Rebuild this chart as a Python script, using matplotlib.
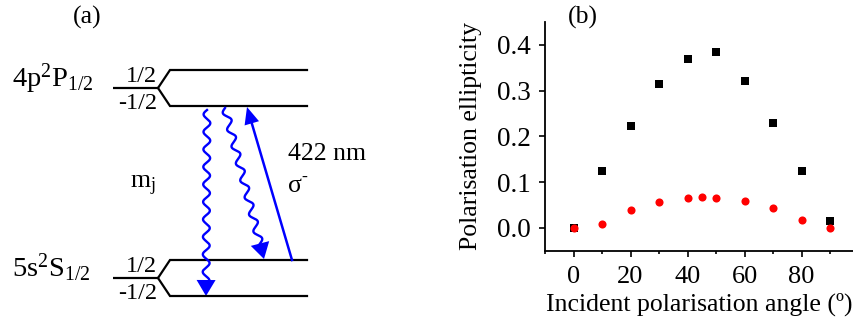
import numpy as np
import matplotlib
matplotlib.use("Agg")
import matplotlib.pyplot as plt
from matplotlib.patches import Polygon
from matplotlib.ticker import MultipleLocator

plt.rcParams['font.family'] = ['Liberation Serif', 'DejaVu Serif']
plt.rcParams['mathtext.fontset'] = 'custom'
plt.rcParams['mathtext.rm'] = 'Liberation Serif'
plt.rcParams['mathtext.it'] = 'Liberation Serif:italic'

# ---------------- data for panel (b) ----------------
angles_sq = [0, 10, 20, 30, 40, 50, 60, 70, 80, 90]
ellip_sq = [0.0, 0.125, 0.223, 0.315, 0.369, 0.385, 0.320, 0.230, 0.125, 0.016]
angles_ci = [0, 10, 20, 30, 40, 45, 50, 60, 70, 80, 90]
ellip_ci = [0.0, 0.009, 0.038, 0.057, 0.066, 0.067, 0.066, 0.058, 0.043, 0.017, 0.0]
yticks = [0.0, 0.1, 0.2, 0.3, 0.4]
xticks = [0, 20, 40, 60, 80]

# ---------------- diagram (a) geometry (pixel units) ----------------
level_names = [r'$\mathregular{4p^2P_{1/2}}$', r'$\mathregular{5s^2S_{1/2}}$']
level_mid = [88, 278]        # stub line height
level_split = [18, 18]       # half spacing of sublevels
stub_x = [113, 158]
split_x = 170
right_x = 307
sub_labels = ['1/2', '-1/2']
wavy_arrows = [((207, 110), (206, 296)), ((225, 108), (264, 259))]
laser_arrow = ((292, 260), (247, 107))

fig = plt.figure(figsize=(8.54, 3.21), dpi=100)
ax0 = fig.add_axes([0, 0, 1, 1])
ax0.set_xlim(0, 854)
ax0.set_ylim(321, 0)
ax0.axis('off')

FS_NAME = 20.5
FS_SUB = 17.5
FS = 18.5
for name, ym, h in zip(level_names, level_mid, level_split):
    ax0.plot([stub_x[0], stub_x[1]], [ym, ym], color='black', lw=1.6,
             solid_capstyle='butt')
    for sgn in (-1, 1):
        ax0.plot([stub_x[1], split_x, right_x], [ym, ym + sgn * h, ym + sgn * h],
                 color='black', lw=1.6, solid_joinstyle='miter')
    ax0.text(12, ym - 1, name, fontsize=FS_NAME, ha='left', va='baseline')
    ax0.text(157, ym - 6, sub_labels[0], fontsize=FS_SUB, ha='right', va='baseline')
    ax0.text(157, ym + 21, sub_labels[1], fontsize=FS_SUB, ha='right', va='baseline')

ax0.text(87, 24, '(a)', fontsize=FS, ha='center', va='baseline')
ax0.text(130, 188, r'$\mathregular{m_j}$', fontsize=FS, ha='left', va='baseline')
ax0.text(288, 160, '422 nm', fontsize=FS, ha='left', va='baseline')
ax0.text(288, 192, 'σ', fontsize=FS, ha='left', va='baseline')
ax0.text(301, 182, '-', fontsize=13, ha='left', va='baseline')

BLUE = '#0000ff'


def head(ax, tip, u, n, hl, hw):
    base = tip - hl * u
    tri = np.array([tip, base + hw / 2 * n, base - hw / 2 * n])
    ax.add_patch(Polygon(tri, closed=True, color=BLUE, lw=0))


def wavy(ax, p0, p1, amp=3.4, period=17.5, hl=16, hw=19):
    p0 = np.array(p0, float)
    p1 = np.array(p1, float)
    d = p1 - p0
    L = np.hypot(*d)
    u = d / L
    n = np.array([-u[1], u[0]])
    s = np.linspace(0, L - hl + 2, 600)
    pts = p0[None, :] + s[:, None] * u[None, :] + \
        (amp * np.sin(2 * np.pi * s / period))[:, None] * n[None, :]
    ax.plot(pts[:, 0], pts[:, 1], color=BLUE, lw=1.7)
    head(ax, p1, u, n, hl, hw)


for p0, p1 in wavy_arrows:
    wavy(ax0, p0, p1)

p0 = np.array(laser_arrow[0], float)
p1 = np.array(laser_arrow[1], float)
d = p1 - p0
L = np.hypot(*d)
u = d / L
n = np.array([-u[1], u[0]])
base = p1 - 16 * u
ax0.plot([p0[0], base[0]], [p0[1], base[1]], color=BLUE, lw=1.8)
head(ax0, p1, u, n, 17, 15)

# ---------------- panel (b) ----------------
ax = fig.add_axes([545 / 854, 1 - 250.7 / 321, (853 - 545) / 854, (250.7 - 22) / 321])
ax.scatter(angles_sq, ellip_sq, marker='s', s=34, color='black', lw=0, zorder=2)
ax.scatter(angles_ci, ellip_ci, marker='o', s=34, color='#ff0000', lw=0, zorder=3)
ax.set_xlim(-10, 98)
ax.set_ylim(-0.05, 0.45)
ax.set_xticks(xticks)
ax.xaxis.set_minor_locator(MultipleLocator(10))
ax.set_yticks(yticks)
ax.set_yticklabels([f'{v:.1f}' for v in yticks])
for side in ('top', 'right'):
    ax.spines[side].set_visible(False)
for side in ('left', 'bottom'):
    ax.spines[side].set_linewidth(1.3)
ax.tick_params(axis='both', which='major', direction='out', length=4, width=1.2)
ax.tick_params(axis='y', pad=6, labelsize=19.5)
ax.tick_params(axis='x', pad=7, labelsize=19)
ax.tick_params(axis='x', which='minor', direction='out', length=2.5, width=1.2)
ax.set_xlabel('Incident polarisation angle (º)', fontsize=FS, labelpad=3)
ax.set_ylabel('Polarisation ellipticity', fontsize=FS, labelpad=11)
fig.text(583 / 854, 1 - 24 / 321, '(b)', fontsize=FS, ha='center', va='baseline')

fig.savefig('out.png', dpi=100)
